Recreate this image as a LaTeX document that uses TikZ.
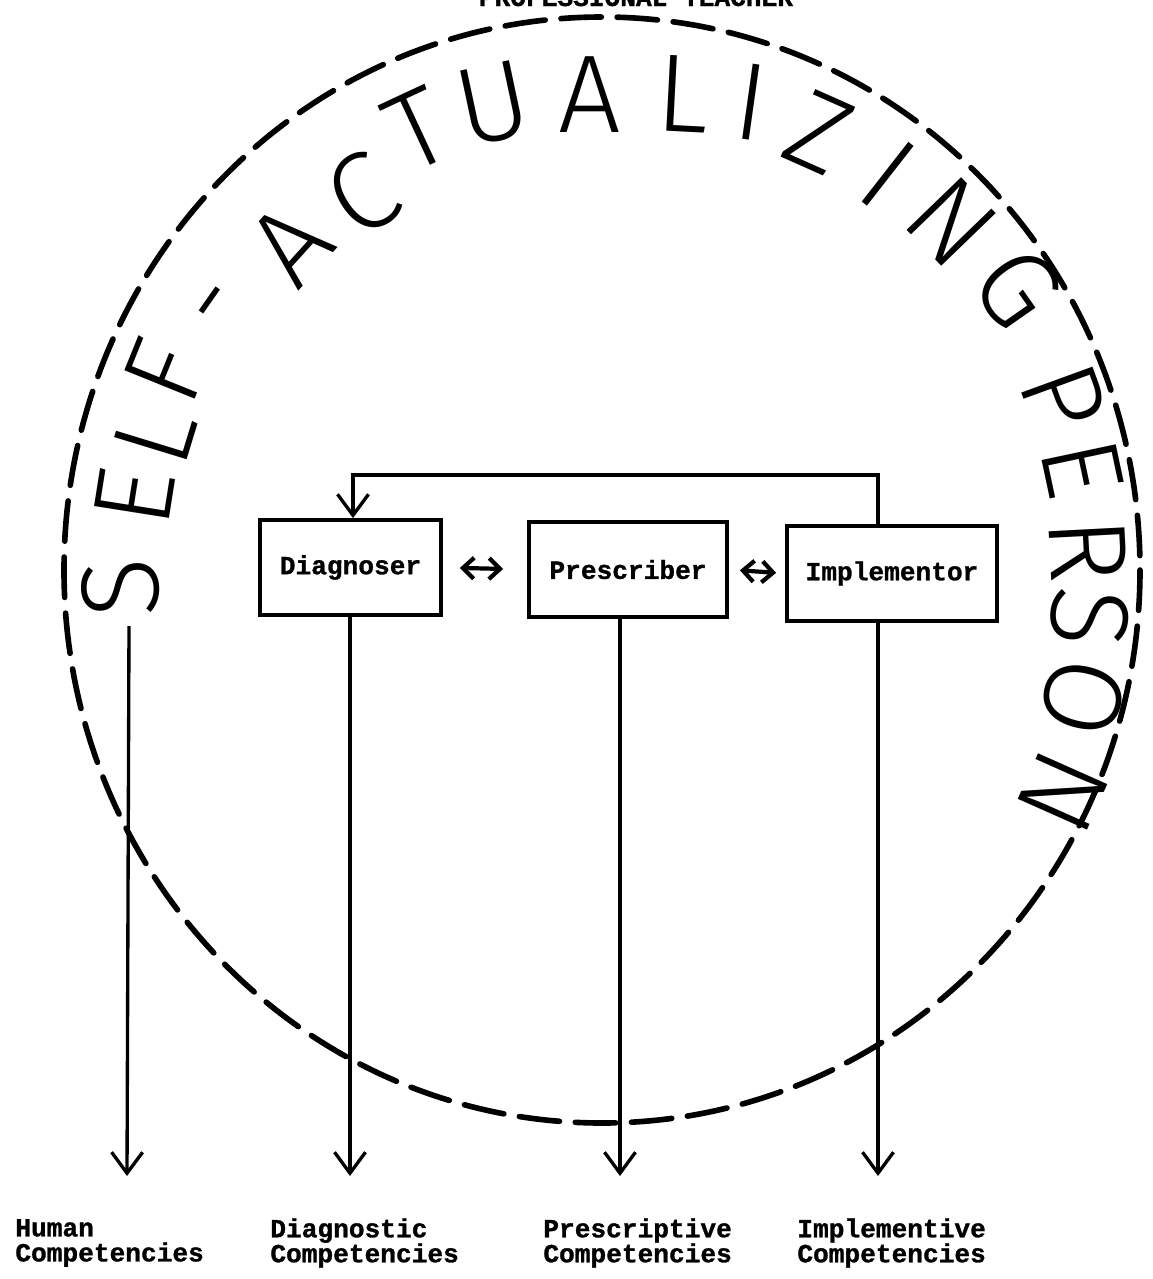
\documentclass[tikz,border=0pt]{standalone}
\usepackage{fontspec}
\newfontfamily\typefont{Liberation Mono}[UprightFont={* Bold}, FakeBold=1.1]
\newfontfamily\handfont{Fira Sans Light}
\usetikzlibrary{arrows.meta}

\tikzset{
  role/.style={draw, line width=2.2pt, font=\typefont\fontsize{14.9}{14.2}\selectfont,
               inner sep=0pt, minimum height=1.9cm},
  comp/.style={font=\typefont\fontsize{14.9}{14.2}\selectfont, align=left,
               anchor=west, inner sep=0pt},
  flow/.style={line width=1.9pt, -{Straight Barb[length=0.42cm, width=0.62cm, line width=1.9pt]}},
  swap/.style={line width=2.4pt, {Straight Barb[length=0.22cm, width=0.42cm]}-{Straight Barb[length=0.22cm, width=0.42cm]}},
  hand/.style={font=\handfont\fontsize{63}{63}\selectfont, inner sep=0pt}
}

\begin{document}
\begin{tikzpicture}[x=0.02cm, y=-0.02cm]
  \useasboundingbox (0,0) rectangle (1153,1279);
  % heading, cut at the top edge
  \node[font=\typefont\fontsize{14.9}{14.2}\selectfont, anchor=base] (head) at (636,6) {PROFESSIONAL TEACHER};
  % dashed circle
  \draw[line width=3.2pt, dash pattern=on 23pt off 9pt, line cap=round] (602,570) ellipse [x radius=538, y radius=553];
  % hand lettering round the circle
  \foreach \ch/\x/\y/\r [count=\k] in {
      S/121/588/92, E/134/497/81, L/155/435/73, F/165/372/68, -/223/310/55,
      A/290/244/48, C/362/194/33, T/417/130/25, U/493/104/12, A/590/95/0,
      L/683/94/-3, I/751/102/-8, Z/819/132/-24, I/888/174/-38, N/952/222/-46,
      G/1018/288/-55, P/1064/398/-70, E/1082/468/-78, R/1088/550/-87,
      S/1090/618/-95, O/1083/698/-104, N/1063/792/-114}
    \node[hand, rotate=\r] (ltr\k) at (\x,\y) {\ch};
  % the three roles
  \node[role, minimum width=3.62cm] (diag) at (350.5,567.5) {Diagnoser};
  \node[role, minimum width=3.96cm] (pres) at (628,569.5) {Prescriber};
  \node[role, minimum width=4.2cm] (impl) at (892,573.5) {Implementor};
  \draw[swap, shorten <=0.34cm, shorten >=0.48cm] (diag.east) -- (pres.west);
  \draw[swap, shorten <=0.22cm, shorten >=0.18cm] (pres.east) -- (impl.west);
  % arrow tips and feedback corner
  \coordinate (humT) at (127,1176);
  \coordinate (humS) at (129,626);
  \coordinate (diagT) at (350,1176);
  \coordinate (presT) at (620,1176);
  \coordinate (implT) at (878,1176);
  \coordinate (back) at (353,475);
  \draw[flow] (impl.north -| implT) |- (back) -- (diag.north -| back);
  \draw[flow] (humS) -- (humT);
  \draw[flow] (diag.south -| diagT) -- (diagT);
  \draw[flow] (pres.south -| presT) -- (presT);
  \draw[flow] (impl.south -| implT) -- (implT);
  % competency labels
  \node[comp] (human) at (15,1243) {Human\\Competencies};
  \node[comp] (diagc) at (270,1243) {Diagnostic\\Competencies};
  \node[comp] (presc) at (543,1243) {Prescriptive\\Competencies};
  \node[comp] (implc) at (797,1243) {Implementive\\Competencies};
\end{tikzpicture}
\end{document}
